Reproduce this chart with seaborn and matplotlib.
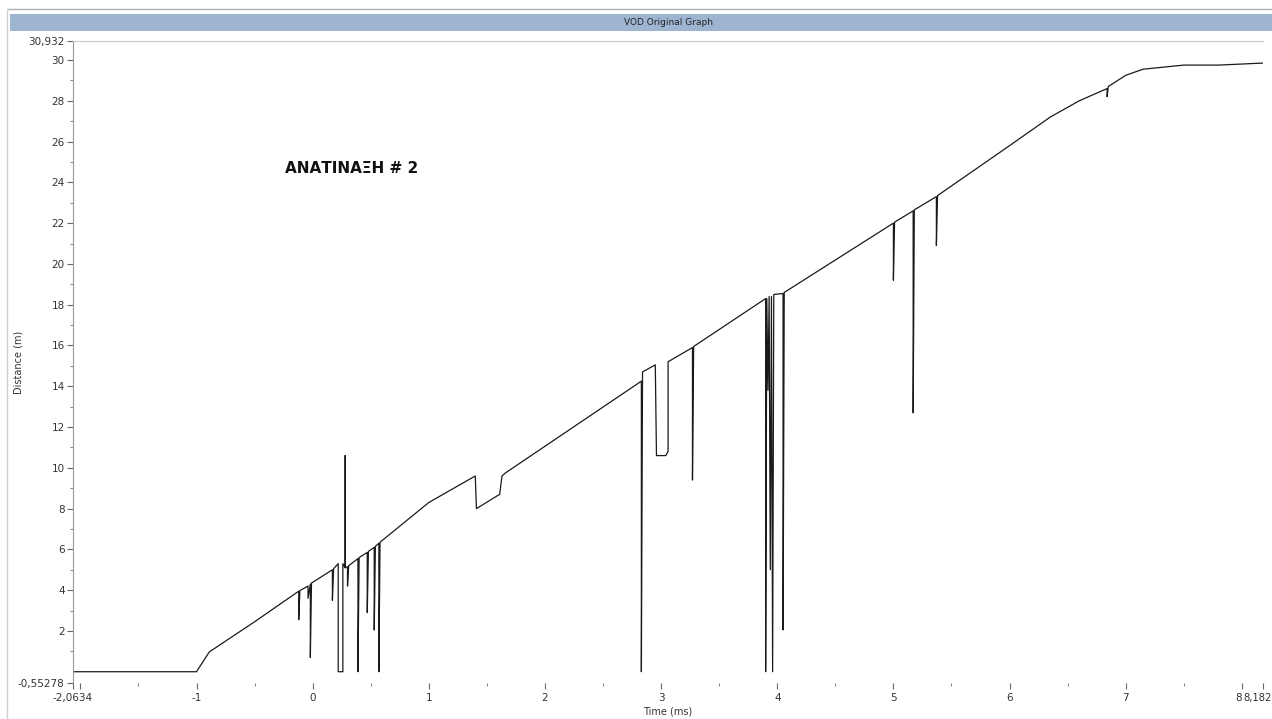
import matplotlib
matplotlib.use("Agg")
import matplotlib.pyplot as plt
from matplotlib.patches import Rectangle
from matplotlib.lines import Line2D
import seaborn as sns
import pandas as pd

# ---- data (time in ms, distance in m) ----
time_ms = [
    -2.0634, -1.00, -0.89, -0.50,
    -0.12, -0.12, -0.11, -0.04, -0.04, -0.02, -0.02, -0.01,
    0.17, 0.17, 0.18, 0.22, 0.22, 0.26, 0.26,
    0.28, 0.28, 0.28, 0.30, 0.30, 0.31,
    0.39, 0.39, 0.40, 0.47, 0.47, 0.48, 0.53, 0.53, 0.54, 0.57, 0.57, 0.58,
    1.00, 1.40, 1.41, 1.61, 1.63, 1.66,
    2.83, 2.83, 2.84, 2.95, 2.96, 3.04, 3.06, 3.06,
    3.27, 3.27, 3.28,
    3.90, 3.90, 3.91, 3.92, 3.93, 3.94, 3.95, 3.96, 3.97,
    4.05, 4.05, 4.06,
    5.00, 5.00, 5.01, 5.17, 5.17, 5.18, 5.37, 5.37, 5.38,
    6.00, 6.35, 6.60, 6.84, 6.84, 6.85, 7.00, 7.15, 7.50, 7.80, 8.182,
]
distance_m = [
    0.00, 0.00, 0.97, 2.45,
    3.95, 2.55, 3.98, 4.20, 3.60, 4.30, 0.70, 4.35,
    5.00, 3.50, 5.05, 5.30, 0.00, 0.00, 5.30,
    5.10, 10.60, 5.10, 5.15, 4.20, 5.20,
    5.55, 0.00, 5.60, 5.85, 2.90, 5.90, 6.10, 2.05, 6.15, 6.30, 0.00, 6.35,
    8.30, 9.60, 8.00, 8.70, 9.60, 9.75,
    14.25, 0.00, 14.70, 15.05, 10.60, 10.60, 10.80, 15.20,
    15.90, 9.40, 15.95,
    18.30, 0.00, 18.30, 13.80, 18.40, 5.00, 18.40, 0.00, 18.50,
    18.55, 2.05, 18.60,
    22.00, 19.20, 22.05, 22.60, 12.70, 22.65, 23.30, 20.90, 23.35,
    25.80, 27.20, 28.00, 28.60, 28.20, 28.70, 29.25, 29.55, 29.75, 29.75, 29.85,
]

x_major = [-2.0634, -2, -1, 0, 1, 2, 3, 4, 5, 6, 7, 8, 8.182]
x_labels = ["-2,0634", "", "-1", "0", "1", "2", "3", "4", "5", "6", "7", "8", "8,182"]
y_major = [-0.55278, 2, 4, 6, 8, 10, 12, 14, 16, 18, 20, 22, 24, 26, 28, 30, 30.932]
y_labels = ["-0,55278", "2", "4", "6", "8", "10", "12", "14", "16", "18", "20",
            "22", "24", "26", "28", "30", "30,932"]

title_text = "VOD Original Graph"
annotation = "ΑΝΑΤΙΝΑΞΗ # 2"

df = pd.DataFrame({"time": time_ms, "dist": distance_m})

sns.set_style("white")
plt.rcParams["font.family"] = ["DejaVu Sans"]

W, H = 1272, 719
fig = plt.figure(figsize=(W / 100, H / 100), dpi=100)
fig.patch.set_facecolor("white")
ax = fig.add_axes([73 / W, 1 - 683 / H, (1263 - 73) / W, (683 - 41) / H])

sns.lineplot(data=df, x="time", y="dist", sort=False, estimator=None,
             color="#1a1a1a", linewidth=0.9, ax=ax)

ax.set_xlim(-2.0634, 8.182)
ax.set_ylim(-0.55278, 30.932)

# the last two x labels are drawn separately so they stay inside the figure
ax.set_xticks(x_major)
ax.set_xticklabels(x_labels[:-2] + ["", ""])
ax.set_xticks([-1.5, -0.5, 0.5, 1.5, 2.5, 3.5, 4.5, 5.5, 6.5, 7.5], minor=True)
ax.set_yticks(y_major)
ax.set_yticklabels(y_labels)
ax.set_yticks(list(range(1, 30, 2)), minor=True)

ax.tick_params(axis="both", which="major", labelsize=7.5, labelcolor="#333333",
               color="#666666", direction="out", length=4, width=0.8, pad=2)
ax.tick_params(axis="both", which="minor", color="#888888", direction="out",
               length=2, width=0.8)
ax.tick_params(axis="x", which="both", bottom=True, pad=3)
ax.tick_params(axis="y", which="both", left=True)

ax.annotate(x_labels[-2], xy=(x_major[-2], 0), xycoords=("data", "axes fraction"),
            xytext=(-2.5, -7), textcoords="offset points", ha="center", va="top",
            fontsize=7.5, color="#333333", annotation_clip=False)
ax.annotate(x_labels[-1], xy=(x_major[-1], 0), xycoords=("data", "axes fraction"),
            xytext=(6.3, -7), textcoords="offset points", ha="right", va="top",
            fontsize=7.2, color="#333333", annotation_clip=False)

for s in ["right", "bottom"]:
    ax.spines[s].set_visible(False)
ax.spines["left"].set_color("#999999")
ax.spines["left"].set_linewidth(0.8)
ax.spines["top"].set_color("#cccccc")
ax.spines["top"].set_linewidth(0.8)

ax.set_xlabel("Time (ms)", fontsize=7, color="#333333", labelpad=1)
ax.set_ylabel("Distance (m)", fontsize=7, color="#333333", labelpad=4)
ax.xaxis.set_label_coords(0.5, -0.037)
ax.yaxis.set_label_coords(-0.042, 0.5)

ax.text(-0.24, 24.7, annotation, fontsize=11, fontweight="bold", color="#111111",
        ha="left", va="center")

# window-like frame and title bar
fig.add_artist(Rectangle((10 / W, 1 - 31 / H), (W - 10) / W, 17 / H,
                         transform=fig.transFigure, facecolor="#9db5d1",
                         edgecolor="none"))
fig.text(668 / W, 1 - 22.5 / H, title_text, fontsize=6.5, color="#222222",
         ha="center", va="center")
fig.add_artist(Line2D([7 / W, 1], [1 - 9 / H, 1 - 9 / H], transform=fig.transFigure,
                      color="#b0b0b0", linewidth=1))
fig.add_artist(Line2D([7 / W, 7 / W], [0, 1 - 9 / H], transform=fig.transFigure,
                      color="#d0d0d0", linewidth=1))

fig.savefig("out.png", dpi=100)
